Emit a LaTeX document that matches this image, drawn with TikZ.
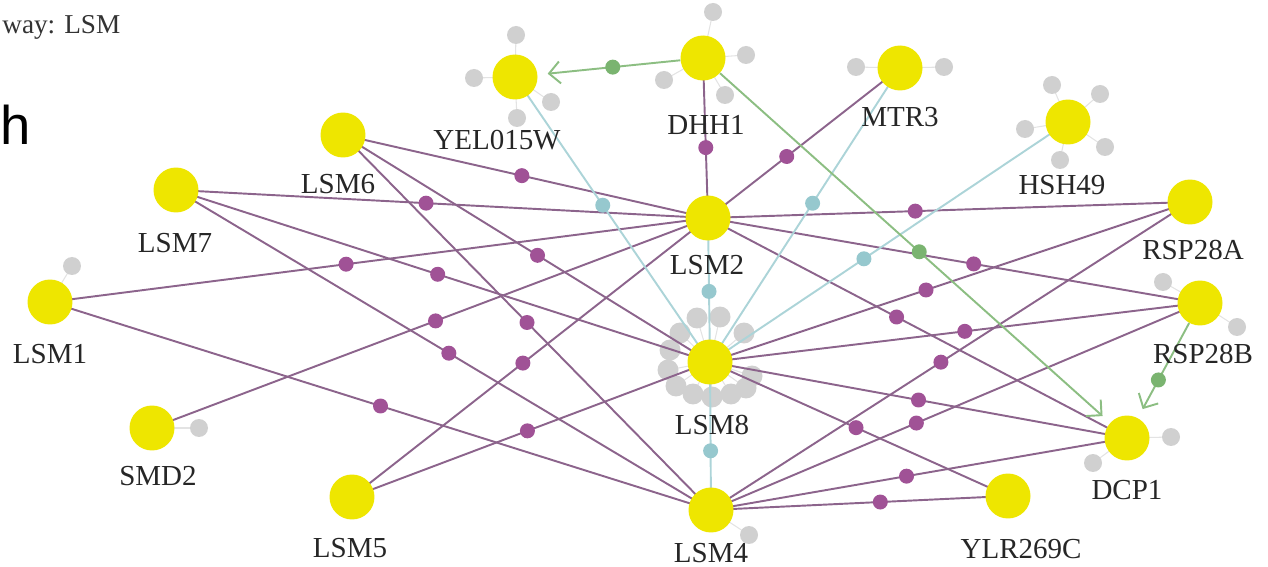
\documentclass[tikz,border=0pt]{standalone}
\usepackage{fontspec}
\setmainfont{Liberation Serif}
\newfontfamily\panelfont{Liberation Sans}
\usetikzlibrary{calc,arrows.meta}
\usepackage{xcolor}

\definecolor{geneyellow}{RGB}{238,230,0}
\definecolor{ppiline}{RGB}{140,100,140}
\definecolor{ppidot}{RGB}{160,82,150}
\definecolor{coline}{RGB}{172,212,216}
\definecolor{codot}{RGB}{150,200,206}
\definecolor{regline}{RGB}{140,190,130}
\definecolor{regdot}{RGB}{122,180,112}
\definecolor{nbgray}{RGB}{208,208,208}

\begin{document}
\begin{tikzpicture}[x=0.02cm,y=-0.02cm,
    gene/.style={circle,fill=geneyellow,minimum size=0.9cm,inner sep=0pt},
    nb/.style={circle,fill=nbgray,minimum size=0.36cm,inner sep=0pt},
    glabel/.style={font=\fontsize{16.5}{19}\selectfont,text=black!85,inner sep=0pt},
    ppi/.style={draw=ppiline,line width=1.1pt},
    pdot/.style={circle,fill=ppidot,minimum size=0.3cm,inner sep=0pt},
    coexp/.style={draw=coline,line width=1.1pt},
    cdot/.style={circle,fill=codot,minimum size=0.3cm,inner sep=0pt},
    reg/.style={draw=regline,line width=1.1pt,-{Straight Barb[length=2.2mm,width=4.4mm]},shorten >=0.2cm},
    rdot/.style={circle,fill=regdot,minimum size=0.3cm,inner sep=0pt}]
\useasboundingbox (0,0) rectangle (1268,567);

% panel remains at the left edge
\node[anchor=west,inner sep=0pt,font=\fontsize{15.5}{18}\selectfont,text=black!80] (title) at (2,27) {way: LSM};
\node[anchor=base west,inner sep=0pt,font=\panelfont\fontsize{31}{34}\selectfont] (panel) at (0,145) {h};

% the genes of the pathway (pixel coordinates)
\foreach \g/\x/\y in {YEL015W/515/77, DHH1/703/58, MTR3/900/68, HSH49/1068/122,
    LSM6/343/135, LSM7/176/190, LSM2/708/218, RSP28A/1190/202, LSM1/50/302,
    RSP28B/1200/303, LSM8/710/362, SMD2/152/428, DCP1/1127/438, LSM5/352/497,
    LSM4/711/510, YLR269C/1008/496} {
    \coordinate (\g) at (\x,\y);
}

% grey neighbours that are not in the pathway
\foreach \g/\x/\y [count=\i] in {YEL015W/516/35, YEL015W/474/78, YEL015W/551/102, YEL015W/517/118,
    DHH1/713/12, DHH1/746/55, DHH1/664/80, DHH1/725/95,
    MTR3/856/67, MTR3/944/67,
    HSH49/1052/85, HSH49/1100/94, HSH49/1025/129, HSH49/1105/147, HSH49/1060/160,
    LSM1/72/266, SMD2/199/428, RSP28B/1163/282, RSP28B/1237/327,
    DCP1/1171/437, DCP1/1093/463, LSM4/749/535} {
    \draw[nbgray!60,line width=0.6pt] (\g) -- (\x,\y);
    \node[nb] (nb\i) at (\x,\y) {};
}
% the crowd round LSM8
\foreach \x/\y [count=\i] in {697/318, 720/317, 680/333, 744/333, 670/350,
    668/370, 752/376, 676/386, 693/394, 712/397, 731/394, 746/388} {
    \draw[nbgray!60,line width=0.6pt] (LSM8) -- (\x,\y);
    \node[nb,minimum size=0.42cm] (ring\i) at (\x,\y) {};
}

% physical interactions (purple), dot placed along each line
\foreach \a/\b/\t in {LSM2/DHH1/0.44, LSM2/MTR3/0.41, LSM2/LSM6/0.51, LSM2/LSM7/0.53,
    LSM2/LSM1/0.55, LSM2/SMD2/0.49, LSM2/LSM5/0.52, LSM2/RSP28A/0.43,
    LSM2/RSP28B/0.54, LSM2/DCP1/0.45,
    LSM8/LSM6/0.47, LSM8/LSM7/0.51, LSM8/LSM5/0.51, LSM8/RSP28A/0.45,
    LSM8/RSP28B/0.52, LSM8/DCP1/0.5, LSM8/YLR269C/0.49,
    LSM4/LSM6/0.5, LSM4/LSM7/0.49, LSM4/LSM1/0.5, LSM4/RSP28A/0.48,
    LSM4/RSP28B/0.42, LSM4/DCP1/0.47, LSM4/YLR269C/0.57} {
    \draw[ppi] (\a) -- (\b);
    \node[pdot] (d-\a-\b) at ($(\a)!\t!(\b)$) {};
}

% co-expression (light blue)
\foreach \a/\b/\t in {LSM8/LSM2/0.49, LSM8/LSM4/0.6, LSM8/YEL015W/0.55,
    LSM8/MTR3/0.54, LSM8/HSH49/0.43} {
    \draw[coexp] (\a) -- (\b);
    \node[cdot] (c-\a-\b) at ($(\a)!\t!(\b)$) {};
}

% the genes on top
\foreach \g in {YEL015W, DHH1, MTR3, HSH49, LSM6, LSM7, LSM2, RSP28A, LSM1,
    RSP28B, LSM8, SMD2, DCP1, LSM5, LSM4, YLR269C} {
    \node[gene] (n-\g) at (\g) {};
}

% regulation (green arrows)
\foreach \a/\b/\t in {DHH1/YEL015W/0.48, DHH1/DCP1/0.51, RSP28B/DCP1/0.57} {
    \draw[reg] (n-\a) -- (n-\b);
    \node[rdot] (r-\a-\b) at ($(\a)!\t!(\b)$) {};
}

% gene names
\foreach \g/\x/\y in {YEL015W/497/140, DHH1/706/125, MTR3/900/117, HSH49/1062/185,
    LSM6/338/184, LSM7/175/243, LSM2/707/265, RSP28A/1193/250, LSM1/50/354,
    RSP28B/1203/354, LSM8/712/425, SMD2/158/476, DCP1/1127/490, LSM5/350/548,
    LSM4/711/553, YLR269C/1021/549} {
    \node[glabel] (l-\g) at (\x,\y) {\g};
}
\end{tikzpicture}
\end{document}
